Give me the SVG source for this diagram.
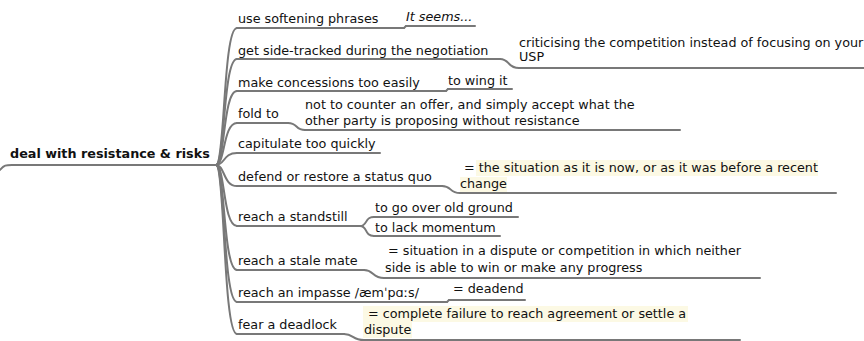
<svg xmlns="http://www.w3.org/2000/svg" width="864" height="341" viewBox="0 0 864 341">
<style>
text{font-family:"DejaVu Sans","Liberation Sans",sans-serif;font-size:12.75px;fill:#111}
.root{font-weight:bold}
.it{font-style:italic}
.ln{fill:none;stroke:#787878;stroke-width:2;stroke-linecap:round}
.hl{fill:#fcf9e4}
</style>
<rect width="864" height="341" fill="#fff"/>
<g id="connectors" class="ln">
<path d="M216,165 C225,165 223,28 237,28"/>
<path d="M216,165 C225,165 223,59 237,59"/>
<path d="M216,165 C225,165 223,91 237,91"/>
<path d="M216,165 C225,165 223,123 237,123"/>
<path d="M216,165 C225,165 223,153 237,153"/>
<path d="M216,165 C225,165 223,186 237,186"/>
<path d="M216,165 C225,165 223,226 237,226"/>
<path d="M216,165 C225,165 223,270 237,270"/>
<path d="M216,165 C225,165 223,302 237,302"/>
<path d="M216,165 C225,165 223,334 237,334"/>
<path d="M404,28 L406,26"/>
<path d="M500,59 C510,59 507,68 519,68"/>
<path d="M446,91 L448,89"/>
<path d="M288,123 C298,123 295,130 305,130"/>
<path d="M442,186 C452,186 449,193 460,193"/>
<path d="M360,226 C368,226 364,217 374,217"/>
<path d="M360,226 C368,226 364,236 374,236"/>
<path d="M364,270 C374,270 372,278 384,278"/>
<path d="M447,302 L449,300"/>
<path d="M344,334 C354,334 352,340 364,340"/>
</g>
<g id="root">
<path class="ln" d="M0,170 C4,165 6,165 12,165 L216,165" stroke-width="2.5"/>
<text class="root" x="10" y="158">deal with resistance &amp; risks</text>
</g>
<g id="n1">
<path class="ln" d="M237,28 L404,28"/>
<text x="238" y="23">use softening phrases</text>
</g>
<g id="n1a">
<path class="ln" d="M406,26 L475,26"/>
<text class="it" x="406" y="21">It seems...</text>
</g>
<g id="n2">
<path class="ln" d="M237,59 L500,59"/>
<text x="238" y="55">get side-tracked during the negotiation</text>
</g>
<g id="n2a">
<path class="ln" d="M519,68 L866,68"/>
<text x="519" y="47">criticising the competition instead of focusing on your</text>
<text x="519" y="61">USP</text>
</g>
<g id="n3">
<path class="ln" d="M237,91 L446,91"/>
<text x="238" y="87">make concessions too easily</text>
</g>
<g id="n3a">
<path class="ln" d="M448,89 L512,89"/>
<text x="448" y="85">to wing it</text>
</g>
<g id="n4">
<path class="ln" d="M237,123 L288,123"/>
<text x="238" y="118">fold to</text>
</g>
<g id="n4a">
<path class="ln" d="M305,130 L680,130"/>
<text x="305" y="109">not to counter an offer, and simply accept what the</text>
<text x="305" y="125">other party is proposing without resistance</text>
</g>
<g id="n5">
<path class="ln" d="M237,153 L380,153"/>
<text x="238" y="148">capitulate too quickly</text>
</g>
<g id="n6">
<path class="ln" d="M237,186 L442,186"/>
<text x="238" y="181">defend or restore a status quo</text>
</g>
<g id="n6a">
<rect class="hl" x="476" y="160" width="342" height="16"/>
<rect class="hl" x="460" y="177" width="47" height="16"/>
<path class="ln" d="M460,193 L836,193"/>
<text x="460" y="172" xml:space="preserve"> = the situation as it is now, or as it was before a recent</text>
<text x="460" y="188">change</text>
</g>
<g id="n7">
<path class="ln" d="M237,226 L360,226"/>
<text x="238" y="221">reach a standstill</text>
</g>
<g id="n7a">
<path class="ln" d="M374,217 L518,217"/>
<text x="375" y="212">to go over old ground</text>
</g>
<g id="n7b">
<path class="ln" d="M374,236 L500,236"/>
<text x="375" y="232">to lack momentum</text>
</g>
<g id="n8">
<path class="ln" d="M237,270 L364,270"/>
<text x="238" y="265">reach a stale mate</text>
</g>
<g id="n8a">
<path class="ln" d="M384,278 L760,278"/>
<text x="384" y="255" xml:space="preserve"> = situation in a dispute or competition in which neither</text>
<text x="385" y="272">side is able to win or make any progress</text>
</g>
<g id="n9">
<path class="ln" d="M237,302 L447,302"/>
<text x="238" y="297">reach an impasse /æmˈpɑːs/</text>
</g>
<g id="n9a">
<path class="ln" d="M449,300 L525,300"/>
<text x="453" y="293">= deadend</text>
</g>
<g id="n10">
<path class="ln" d="M237,334 L344,334"/>
<text x="238" y="329">fear a deadlock</text>
</g>
<g id="n10a">
<rect class="hl" x="363" y="306" width="325" height="16"/>
<rect class="hl" x="363" y="322" width="49" height="16"/>
<path class="ln" d="M364,340 L740,340"/>
<text x="364" y="318" xml:space="preserve"> = complete failure to reach agreement or settle a</text>
<text x="364" y="334">dispute</text>
</g>
</svg>
